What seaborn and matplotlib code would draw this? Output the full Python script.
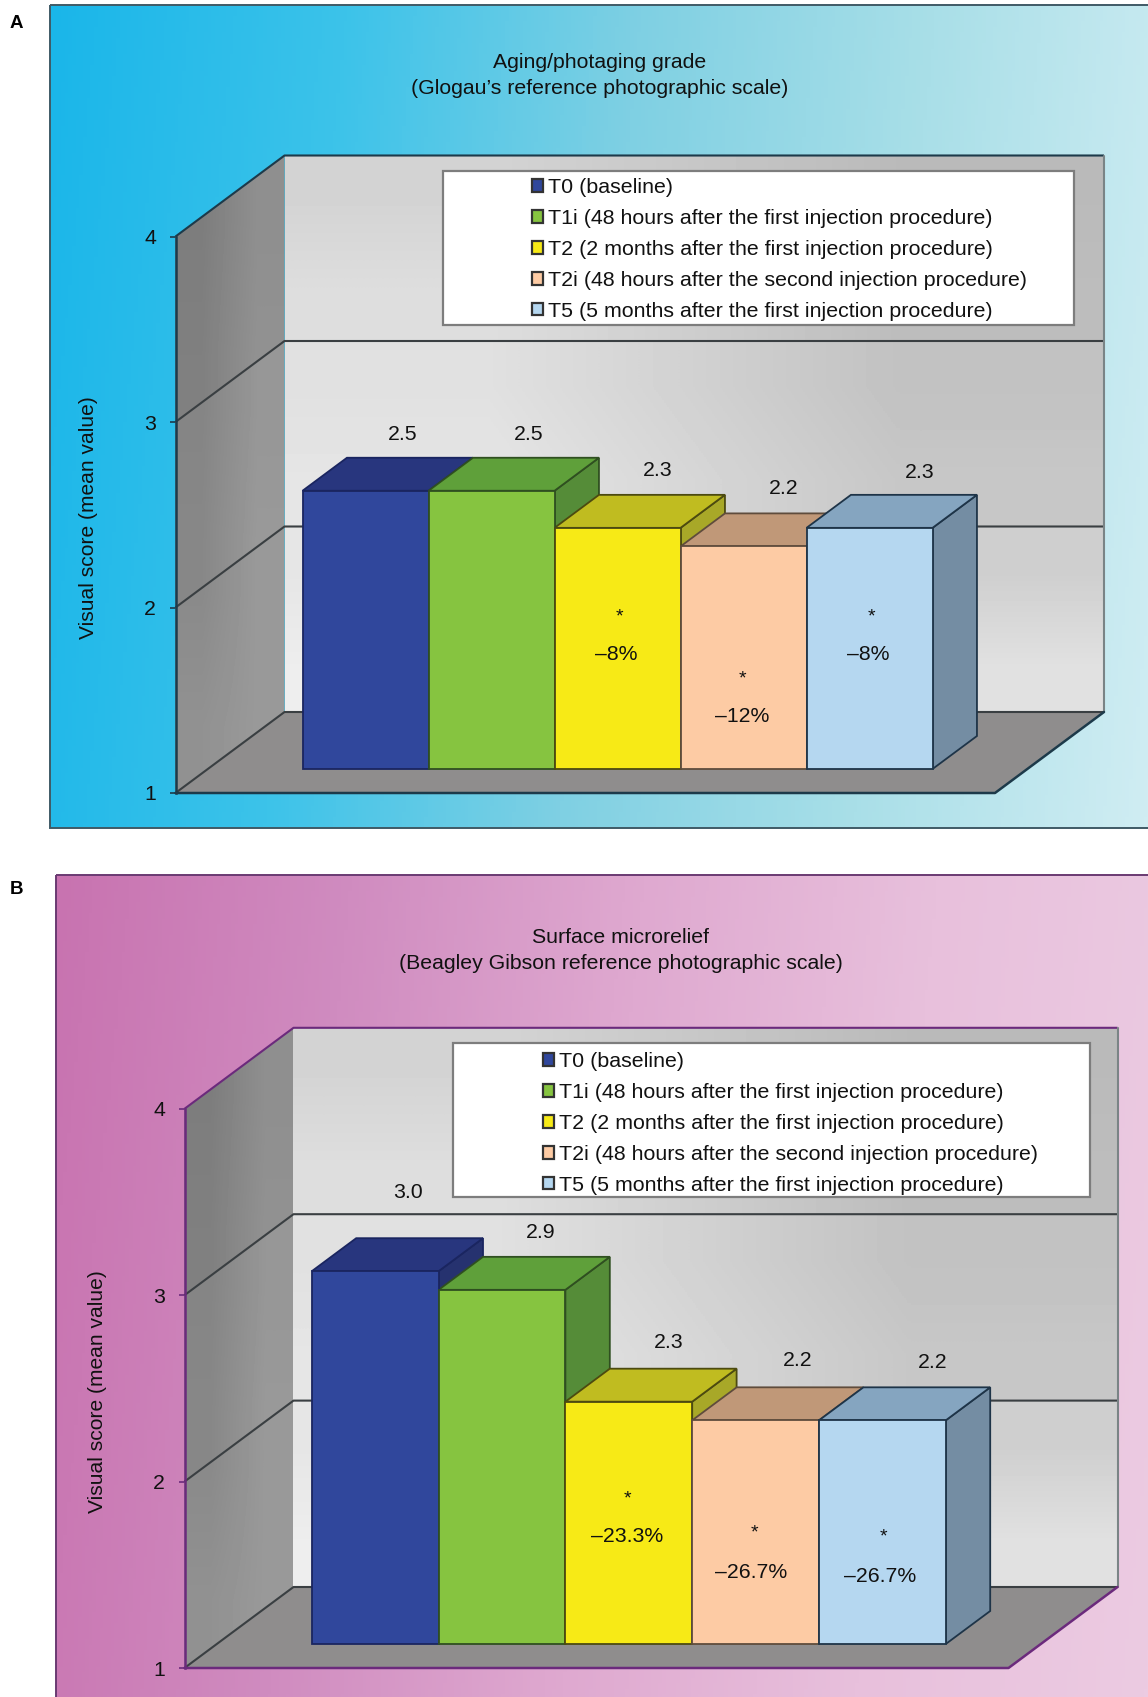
import numpy as np
import matplotlib
matplotlib.use("Agg")
import matplotlib.pyplot as plt
from matplotlib.colors import LinearSegmentedColormap
from matplotlib.patches import Polygon, Patch, Rectangle
import seaborn as sns

# ---- data -------------------------------------------------------------
periods = ["T0", "T1i", "T2", "T2i", "T5"]
legend_labels = [
    "T0 (baseline)",
    "T1i (48 hours after the first injection procedure)",
    "T2 (2 months after the first injection procedure)",
    "T2i (48 hours after the second injection procedure)",
    "T5 (5 months after the first injection procedure)",
]
aging_scores = [2.5, 2.5, 2.3, 2.2, 2.3]
aging_changes = [None, None, "–8%", "–12%", "–8%"]
relief_scores = [3.0, 2.9, 2.3, 2.2, 2.2]
relief_changes = [None, None, "–23.3%", "–26.7%", "–26.7%"]
y_ticks = [1, 2, 3, 4]

# ---- styling ----------------------------------------------------------
W, H = 1148, 1697
FRONT = ["#30479c", "#86c440", "#f7ea16", "#fdcba4", "#b5d7f0"]
TOP = ["#28367e", "#5fa03a", "#c0bc20", "#c09878", "#85a5c0"]
SIDE = ["#26326f", "#558c38", "#a8a828", "#a88a70", "#748da3"]
EDGE = ["#1a2560", "#2f4f20", "#4c4a10", "#5f4c3c", "#1e3448"]
FONT = ["Liberation Sans", "DejaVu Sans"]
TEXT_SIZE = 15.3

sns.set_theme(style="white")
plt.rcParams["font.family"] = FONT
plt.rcParams["text.color"] = "#111111"

fig = plt.figure(figsize=(W / 100, H / 100), dpi=100, facecolor="white")


def fig_rect(x0, y_top, x1, y_bottom):
    """Axes rectangle from pixel bounds measured from the top-left corner."""
    return [x0 / W, 1 - y_bottom / H, (x1 - x0) / W, (y_bottom - y_top) / H]


# Full-figure canvas in pixel units holding the coloured panel backgrounds.
canvas = fig.add_axes([0, 0, 1, 1], zorder=-5)
canvas.set_xlim(0, W)
canvas.set_ylim(H, 0)
canvas.axis("off")


def panel_background(x0, y0, x1, y1, stops, border):
    cmap = LinearSegmentedColormap.from_list("panel", stops)
    gx, gy = np.meshgrid(np.linspace(0, 1, 300), np.linspace(0, 1, 150))
    canvas.imshow((gx * 0.93 + gy * 0.07), cmap=cmap, extent=(x0, x1, y1, y0),
                  aspect="auto", vmin=0, vmax=1, zorder=1)
    canvas.set_xlim(0, W)
    canvas.set_ylim(H, 0)
    canvas.add_patch(Rectangle((x0, y0), x1 - x0, y1 - y0, fill=False,
                               ec=border, lw=1.4, zorder=2, clip_on=False))


def band_image(ax, extent, corners, clip):
    """Bilinear grey fill (TL, TR, BL, BR levels) clipped to a wall polygon."""
    tl, tr, bl, br = corners
    im = ax.imshow(np.array([[tl, tr], [bl, br]], dtype=float), cmap="gray",
                   vmin=0, vmax=1, extent=extent, origin="upper",
                   aspect="auto", interpolation="bilinear", zorder=1)
    im.set_clip_path(clip)
    im.set_clip_box(fig.bbox)


def draw_panel(scores, changes, title, tag, tag_y, origin, x_end, unit_x, unit_y,
               axis_color, legend_box, legend_rows_top, legend_x, value_nudges,
               note_offsets):
    x_left, y_base = origin
    depth_x, depth_y = 109.0, 81.0
    bar_depth = 24.0 / depth_y      # depth of the bars' front plane
    bar_back = bar_depth + 33.0 / depth_y

    # Axes of the front plane of the chart box.
    frame = fig.add_axes(fig_rect(x_left, y_base - 3 * unit_y, x_end, y_base), zorder=1)
    frame.patch.set_alpha(0)
    span = (x_end - x_left) / unit_x
    x_lo = 2.0 - span / 2
    x_hi = 2.0 + span / 2
    frame.set_xlim(x_lo, x_hi)
    frame.set_ylim(1, 4)
    DX, DY = depth_x / unit_x, depth_y / unit_y

    def project(x, y, z):
        return (x + z * DX, y + z * DY)

    def poly(points, **kw):
        kw.setdefault("clip_on", False)
        p = Polygon(points, closed=True, transform=frame.transData, **kw)
        frame.add_patch(p)
        return p

    # Walls and floor.
    left_levels = [
        (4, 3, (0.49, 0.56, 0.50, 0.57)),
        (3, 2, (0.52, 0.59, 0.53, 0.60)),
        (2, 1, (0.54, 0.60, 0.57, 0.60)),
    ]
    for high, low, corners in left_levels:
        wall = poly([project(x_lo, low, 0), project(x_lo, high, 0), project(x_lo, high, 1),
                     project(x_lo, low, 1)], fc="none", ec="none", zorder=1)
        band_image(frame, (x_lo, x_lo + DX, low, high + DY), corners, wall)
    levels = [
        (4, 3, (0.83, 0.73, 0.87, 0.74)),
        (3, 2, (0.88, 0.76, 0.90, 0.78)),
        (2, 1, (0.90, 0.81, 0.93, 0.88)),
    ]
    for high, low, corners in levels:
        wall = poly([project(x_lo, low, 1), project(x_hi, low, 1),
                     project(x_hi, high, 1), project(x_lo, high, 1)],
                    fc="none", ec="none", zorder=1)
        band_image(frame, (x_lo + DX, x_hi + DX, low + DY, high + DY), corners, wall)
    frame.set_xlim(x_lo, x_hi)
    frame.set_ylim(1, 4)

    poly([project(x_lo, 1, 0), project(x_hi, 1, 0), project(x_hi, 1, 1), project(x_lo, 1, 1)],
         fc="#8f8d8d", ec="none", zorder=2)

    # Gridlines wrap from the left wall on to the back wall.
    for level in y_ticks:
        a, b = project(x_lo, level, 0), project(x_lo, level, 1)
        c = project(x_hi, level, 1)
        col = axis_color if level == 4 else "#3a3f42"
        frame.plot([a[0], b[0], c[0]], [a[1], b[1], c[1]], color=col, lw=1.5,
                   clip_on=False, zorder=3, solid_capstyle="butt")
    a, b = project(x_hi, 1, 1), project(x_hi, 4, 1)
    frame.plot([a[0], b[0]], [a[1], b[1]], color="#7a8486", lw=1.5, clip_on=False, zorder=3)
    a, b, c = project(x_lo, 1, 0), project(x_hi, 1, 0), project(x_hi, 1, 1)
    frame.plot([a[0], b[0], c[0]], [a[1], b[1], c[1]], color=axis_color, lw=1.8,
               clip_on=False, zorder=4)

    # Bar tops and right-hand sides, painted left to right.
    for i, value in enumerate(scores):
        l, r = i - 0.5, i + 0.5
        poly([project(r, 1, bar_depth), project(r, value, bar_depth),
              project(r, value, bar_back), project(r, 1, bar_back)],
             fc=SIDE[i], ec=EDGE[i], lw=1.3, zorder=5 + 2 * i)
        poly([project(l, value, bar_depth), project(r, value, bar_depth),
              project(r, value, bar_back), project(l, value, bar_back)],
             fc=TOP[i], ec=EDGE[i], lw=1.3, zorder=6 + 2 * i)

    # Legend panel.
    lx0, ly0, lx1, ly1 = legend_box
    frame.add_patch(Rectangle((lx0 / W, 1 - ly1 / H), (lx1 - lx0) / W, (ly1 - ly0) / H,
                              transform=fig.transFigure, fc="white", ec="#7d7d7d", lw=1.6,
                              zorder=30, clip_on=False))

    # Value axis on the front-left edge of the box.
    for side in ("top", "right", "bottom"):
        frame.spines[side].set_visible(False)
    frame.spines["left"].set_color(axis_color)
    frame.spines["left"].set_linewidth(1.8)
    frame.spines["left"].set_zorder(20)
    frame.set_xticks([])
    frame.set_yticks(y_ticks)
    frame.tick_params(axis="y", left=True, length=4, width=1.2, color=axis_color,
                      labelsize=TEXT_SIZE, pad=10, labelcolor="#111111")
    frame.set_ylabel("Visual score (mean value)", fontsize=TEXT_SIZE - 0.2, labelpad=33,
                     color="#111111", y=0.495)

    # Front faces: the bars themselves, one axes plane deeper than the frame.
    px_bar_left = x_left + (-0.5 - x_lo) * unit_x + bar_depth * depth_x
    px_bar_right = px_bar_left + 5 * unit_x
    px_bar_base = y_base - bar_depth * depth_y
    bars = fig.add_axes(fig_rect(px_bar_left, px_bar_base - 3 * unit_y, px_bar_right,
                                 px_bar_base), zorder=2)
    bars.patch.set_alpha(0)
    heights = [v - 1 for v in scores]
    sns.barplot(x=periods, y=heights, hue=periods, order=periods, hue_order=periods,
                palette=FRONT, width=1, dodge=False, bottom=1, legend=False,
                saturation=1, ax=bars, linewidth=1.3)
    for patch, ec in zip(bars.patches, EDGE):
        patch.set_edgecolor(ec)
        patch.set_clip_on(False)
    bars.set_xlim(-0.5, 4.5)
    bars.set_ylim(1, 4)
    bars.axis("off")

    # Value labels above each bar and the change notes on the treated bars.
    for i, value in enumerate(scores):
        dx, dy = value_nudges[i]
        bars.annotate(f"{value:.1f}", xy=(i, value), xytext=(dx, dy),
                      textcoords="offset pixels", ha="center", va="center",
                      fontsize=TEXT_SIZE, annotation_clip=False)
    for i, text in enumerate(changes):
        if text is None:
            continue
        (sx, sy), (tx, ty) = note_offsets[i]
        bars.annotate("*", xy=(i, 1), xytext=(sx, sy), textcoords="offset pixels",
                      ha="center", va="center", fontsize=14, annotation_clip=False)
        bars.annotate(text, xy=(i, 1), xytext=(tx, ty), textcoords="offset pixels",
                      ha="center", va="center", fontsize=TEXT_SIZE, annotation_clip=False)

    handles = [Patch(fc=f, ec="#333333", lw=1.6) for f in FRONT]
    leg = fig.legend(handles, legend_labels, loc="upper left",
                     bbox_to_anchor=(legend_x / W, 1 - legend_rows_top / H),
                     frameon=False, fontsize=TEXT_SIZE + 0.1, labelspacing=0.56,
                     handlelength=0.51, handleheight=0.51, handletextpad=0.23,
                     borderpad=0, borderaxespad=0)
    leg.set_zorder(40)

    # Chart title and panel tag.
    fig.text(title[2] / W, 1 - title[3] / H, title[0], ha="center", va="center",
             fontsize=TEXT_SIZE)
    fig.text(title[2] / W, 1 - (title[3] + 26) / H, title[1], ha="center", va="center",
             fontsize=TEXT_SIZE)
    fig.text(10 / W, 1 - tag_y / H, tag, ha="left", va="center", fontsize=13.5,
             fontweight="bold", color="black")


panel_background(50, 5, W + 3, 828,
                 ["#1ab6e9", "#3cc3ea", "#7fd0e3", "#a9dfe8", "#d0edf3"], "#3f5a66")
panel_background(56, 875, W + 3, H + 3,
                 ["#c873b0", "#d08cc0", "#dfa9d0", "#e8c0dc", "#eccbe2"], "#6a3a72")

draw_panel(
    aging_scores, aging_changes,
    ("Aging/photaging grade", "(Glogau’s reference photographic scale)", 599.5, 62),
    "A", 23, origin=(175.5, 793), x_end=995, unit_x=126, unit_y=185.5,
    axis_color="#1d3a4a",
    legend_box=(443, 171, 1074, 325), legend_rows_top=178, legend_x=532,
    value_nudges=[(37, 56), (37, 56), (40, 57), (40, 58), (50, 55)],
    note_offsets={2: ((2, 152), (-1, 114)), 3: ((-1, 90), (-1, 53)), 4: ((2, 152), (-1, 114))},
)
draw_panel(
    relief_scores, relief_changes,
    ("Surface microrelief", "(Beagley Gibson reference photographic scale)", 620.5, 938),
    "B", 890, origin=(184.5, 1668), x_end=1008.5, unit_x=126.8, unit_y=186.4,
    axis_color="#6b2a7c",
    legend_box=(453, 1043, 1090, 1197), legend_rows_top=1052, legend_x=543,
    value_nudges=[(33, 79), (39, 57), (40, 59), (42, 60), (50, 58)],
    note_offsets={2: ((-1, 145), (-2, 108)), 3: ((-1, 111), (-4, 72)), 4: ((1, 107), (-2, 68))},
)

fig.savefig("out.png", dpi=100, facecolor="white")
